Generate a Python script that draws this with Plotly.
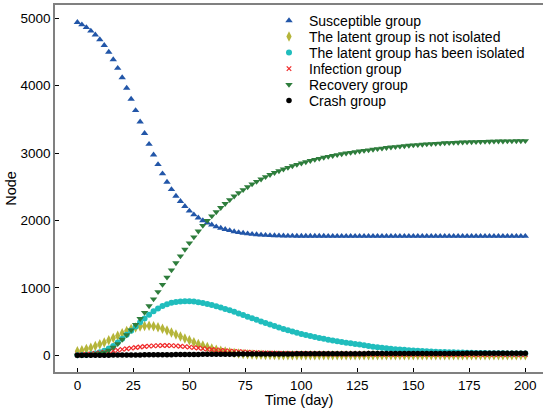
import plotly.graph_objects as go

days = list(range(0, 201, 2))

susceptible = [4940, 4905, 4865, 4812, 4756, 4684, 4600, 4500, 4388, 4260,
               4120, 3965, 3802, 3634, 3465, 3294, 3132, 2975, 2832, 2694,
               2570, 2462, 2363, 2285, 2210, 2142, 2086, 2040, 2000, 1965,
               1936, 1909, 1888, 1869, 1852, 1837, 1824, 1813, 1804, 1797,
               1791, 1786, 1782, 1779, 1777, 1775, 1773, 1772, 1771, 1770,
               1770, 1769, 1769, 1769, 1769, 1769, 1768, 1768, 1768, 1768,
               1768, 1768, 1768, 1768, 1768, 1768, 1768, 1768, 1768, 1768,
               1768, 1768, 1768, 1768, 1768, 1768, 1768, 1768, 1768, 1768,
               1768, 1768, 1768, 1768, 1768, 1768, 1768, 1768, 1768, 1768,
               1768, 1768, 1768, 1768, 1768, 1768, 1768, 1768, 1768, 1768,
               1768]

latent_not_isolated = [60, 74, 92, 113, 137, 163, 192, 225, 258, 292,
                       327, 360, 390, 412, 428, 436, 437, 430, 415, 395,
                       368, 340, 310, 280, 250, 222, 194, 168, 144, 122,
                       102, 84, 68, 55, 44, 35, 27, 21, 16, 12,
                       9, 7, 5, 4, 3, 2, 2, 1, 1, 1,
                       0, 0, 0, 0, 0, 0, 0, 0, 0, 0,
                       0, 0, 0, 0, 0, 0, 0, 0, 0, 0,
                       0, 0, 0, 0, 0, 0, 0, 0, 0, 0,
                       0, 0, 0, 0, 0, 0, 0, 0, 0, 0,
                       0, 0, 0, 0, 0, 0, 0, 0, 0, 0,
                       0]

latent_isolated = [0, 3, 8, 15, 27, 44, 68, 100, 140, 190,
                   245, 305, 366, 428, 490, 548, 603, 652, 695, 731,
                   759, 779, 792, 800, 803, 802, 797, 788, 776, 762,
                   746, 728, 709, 689, 667, 645, 622, 598, 574, 550,
                   526, 502, 479, 456, 434, 412, 391, 371, 352, 334,
                   317, 301, 286, 271, 257, 244, 232, 220, 209, 198,
                   188, 178, 169, 160, 151, 138, 128, 119, 111, 104,
                   97, 91, 86, 81, 76, 72, 68, 64, 60, 57,
                   54, 51, 48, 46, 44, 42, 40, 38, 37, 35,
                   34, 33, 32, 31, 30, 29, 28, 28, 27, 27,
                   26]

infection = [5, 9, 14, 20, 28, 37, 47, 58, 68, 78,
             88, 98, 107, 116, 124, 131, 137, 141, 144, 145,
             145, 143, 140, 135, 129, 122, 115, 108, 100, 93,
             86, 80, 74, 68, 63, 58, 54, 50, 46, 43,
             40, 37, 35, 33, 31, 29, 28, 27, 26, 25,
             24, 23, 22, 22, 21, 21, 20, 20, 19, 19,
             18, 18, 18, 17, 17, 17, 16, 16, 16, 15,
             15, 15, 15, 14, 14, 14, 14, 13, 13, 13,
             13, 13, 12, 12, 12, 12, 12, 12, 11, 11,
             11, 11, 11, 11, 10, 10, 10, 10, 10, 10,
             10]

recovery = [0, 2, 5, 10, 17, 27, 42, 75, 118, 170,
            235, 302, 375, 455, 543, 635, 732, 835, 942, 1050,
            1158, 1265, 1370, 1472, 1570, 1665, 1755, 1842, 1925, 2000,
            2066, 2128, 2190, 2250, 2307, 2361, 2411, 2456, 2499, 2540,
            2578, 2614, 2648, 2680, 2709, 2736, 2762, 2786, 2809, 2830,
            2850, 2869, 2887, 2904, 2920, 2935, 2949, 2962, 2975, 2987,
            2998, 3008, 3018, 3028, 3037, 3046, 3055, 3064, 3072, 3080,
            3087, 3094, 3101, 3107, 3113, 3119, 3124, 3129, 3134, 3138,
            3142, 3146, 3150, 3153, 3156, 3159, 3162, 3164, 3166, 3168,
            3170, 3172, 3173, 3175, 3176, 3177, 3178, 3179, 3180, 3181,
            3182]

crash = [0, 0, 0, 1, 1, 1, 2, 2, 3, 3,
         4, 4, 5, 5, 6, 7, 7, 8, 8, 9,
         10, 10, 11, 11, 12, 12, 13, 13, 14, 14,
         15, 15, 16, 16, 17, 17, 18, 18, 18, 19,
         19, 19, 20, 20, 20, 21, 21, 21, 21, 22,
         22, 22, 23, 23, 23, 23, 24, 24, 24, 24,
         25, 25, 25, 25, 25, 26, 26, 26, 26, 26,
         26, 27, 27, 27, 27, 27, 27, 27, 28, 28,
         28, 28, 28, 28, 28, 28, 28, 29, 29, 29,
         29, 29, 29, 29, 29, 29, 29, 29, 29, 29,
         29]

series_names = ["Susceptible group", "The latent group is not isolated",
                "The latent group has been isolated", "Infection group",
                "Recovery group", "Crash group"]
series_values = [susceptible, latent_not_isolated, latent_isolated,
                 infection, recovery, crash]

marker_styles = [
    dict(symbol="triangle-up", size=6.5, color="#2256A8", line=dict(width=0)),
    dict(symbol="diamond-tall", size=7.5, color="#B5B53A", line=dict(width=0)),
    dict(symbol="circle", size=6, color="#20BDBD", line=dict(width=0)),
    dict(symbol="x-thin", size=4.5, color="#F02828", line=dict(width=1.2, color="#F02828")),
    dict(symbol="triangle-down", size=6.5, color="#2E7D3C", line=dict(width=0)),
    dict(symbol="circle", size=5.5, color="#000000", line=dict(width=0)),
]

legend_ids = ["legend", "legend2", "legend3", "legend4", "legend5", "legend6"]

fig = go.Figure()
for name, vals, mk, lg in zip(series_names, series_values, marker_styles, legend_ids):
    fig.add_trace(go.Scatter(x=days, y=vals, mode="markers", name=name,
                             marker=mk, legend=lg))

font_family = "Liberation Sans, Arial, sans-serif"

plot_top, plot_bottom = 5, 372
plot_h = plot_bottom - plot_top
legend_centers_px = [21, 37, 53, 69, 85, 101]

legend_layout = {}
for lg, yc in zip(legend_ids, legend_centers_px):
    legend_layout[lg] = dict(x=0.4385, y=(plot_bottom - yc) / plot_h,
                             xanchor="left", yanchor="middle",
                             bgcolor="rgba(0,0,0,0)", font=dict(size=14),
                             itemsizing="trace", borderwidth=0)

fig.update_layout(
    width=543, height=408,
    margin=dict(l=55, r=0, t=5, b=36),
    paper_bgcolor="white", plot_bgcolor="white",
    font=dict(family=font_family, size=13, color="#000000"),
    showlegend=True,
    xaxis=dict(range=[-10, 207.9], tickmode="array",
               tickvals=[0, 25, 50, 75, 100, 125, 150, 175, 200],
               ticks="inside", ticklen=4, tickcolor="#000000",
               showline=True, linecolor="#808080", linewidth=1.5, mirror=True,
               showgrid=False, zeroline=False,
               title=dict(text="Time (day)", standoff=2, font=dict(size=14.5)),
               tickfont=dict(size=13.5)),
    yaxis=dict(range=[-247.5, 5197.5], tickmode="array",
               tickvals=[0, 1000, 2000, 3000, 4000, 5000],
               ticks="inside", ticklen=4, tickcolor="#000000",
               showline=True, linecolor="#808080", linewidth=1.5, mirror=False,
               showgrid=False, zeroline=False,
               title=dict(text="Node", standoff=0, font=dict(size=14.5)),
               tickfont=dict(size=13.5)),
    **legend_layout,
)

fig.write_html("out.html")
